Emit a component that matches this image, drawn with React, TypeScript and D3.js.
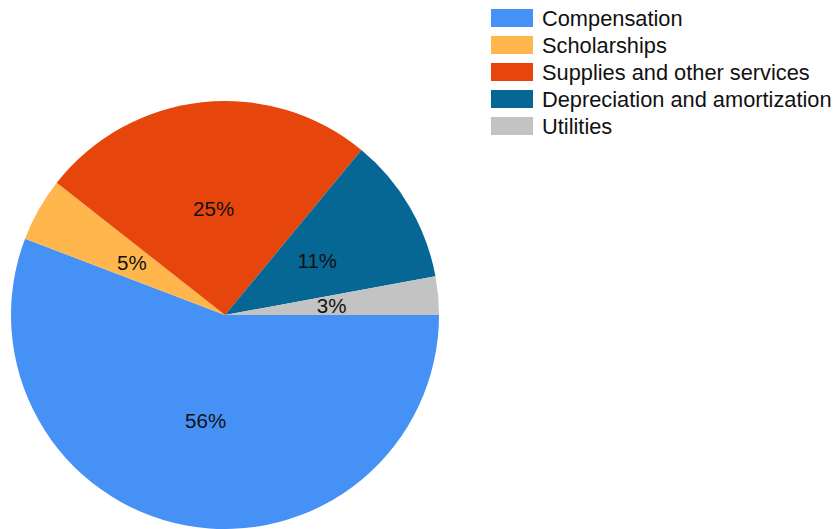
import React from "react";
import * as d3 from "d3";

const categories = ["Compensation", "Scholarships", "Supplies and other services", "Depreciation and amortization", "Utilities"];
const values = [55.8, 4.8, 25.4, 11.1, 2.9];
const labels = ["56%", "5%", "25%", "11%", "3%"];
const colors = ["#4691f6", "#ffb74d", "#e6450c", "#066795", "#c3c3c3"];

export default function App() {
  const width = 838, height = 529;
  const cx = 225, cy = 315, R = 214;
  const data = categories.map((c, i) => ({ c, v: values[i], l: labels[i], col: colors[i] }));
  // start at 3 o'clock, go clockwise
  const pie = d3.pie<any>().value((d) => d.v).sort(null).startAngle(Math.PI / 2).endAngle(Math.PI / 2 + 2 * Math.PI);
  const arcs = pie(data);
  const arc = d3.arc<any>().innerRadius(0).outerRadius(R);
  const labelArc = d3.arc<any>().innerRadius(R / 2).outerRadius(R / 2);
  const font = "'Liberation Sans', Arial, sans-serif";
  return (
    <svg width={width} height={height} style={{ position: "absolute", left: 0, top: 0 }}>
      <g transform={`translate(${cx},${cy})`}>
        {arcs.map((a, i) => (
          <path key={i} d={arc(a) as string} fill={a.data.col} />
        ))}
        {arcs.map((a, i) => {
          const [x, y] = labelArc.centroid(a);
          return (
            <text key={i} x={x} y={y} textAnchor="middle" dominantBaseline="central" fontFamily={font} fontSize={20.5} fill="#111">
              {a.data.l}
            </text>
          );
        })}
      </g>
      <g>
        {categories.map((c, i) => (
          <g key={c} transform={`translate(491,${9 + i * 27})`}>
            <rect width={42} height={18} fill={colors[i]} />
            <text x={51} y={9} dominantBaseline="central" fontFamily={font} fontSize={21.8} fill="#111">{c}</text>
          </g>
        ))}
      </g>
    </svg>
  );
}
